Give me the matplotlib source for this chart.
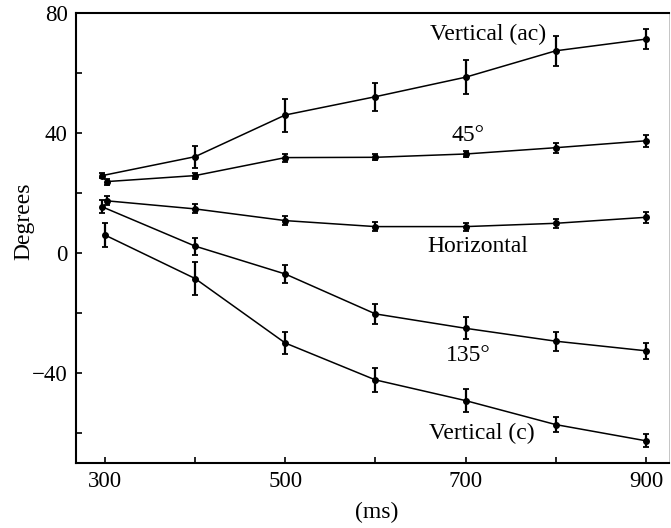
import matplotlib
matplotlib.use("Agg")
import matplotlib.pyplot as plt

plt.rcParams['font.family'] = ['Liberation Serif', 'DejaVu Serif']

# Mean angle (degrees) and standard-error half-widths per condition
x_vert_ac = [297, 400, 500, 600, 700, 800, 900]
y_vert_ac = [25.8, 32.1, 46.0, 52.1, 58.6, 67.4, 71.3]
e_vert_ac = [0.8, 3.6, 5.5, 4.6, 5.6, 5.1, 3.3]

x_45 = [302, 400, 500, 600, 700, 800, 900]
y_45 = [23.8, 25.8, 31.8, 31.9, 33.0, 35.1, 37.4]
e_45 = [1.0, 1.0, 1.3, 1.0, 1.0, 1.7, 2.0]

x_horiz = [302, 400, 500, 600, 700, 800, 900]
y_horiz = [17.4, 14.7, 10.8, 8.8, 8.8, 9.9, 11.9]
e_horiz = [1.5, 1.5, 1.5, 1.5, 1.3, 1.5, 1.8]

x_135 = [297, 400, 500, 600, 700, 800, 900]
y_135 = [15.4, 2.3, -7.0, -20.3, -25.1, -29.4, -32.6]
e_135 = [2.2, 2.8, 3.0, 3.2, 3.7, 3.2, 2.7]

x_vert_c = [300, 400, 500, 600, 700, 800, 900]
y_vert_c = [6.0, -8.5, -30.0, -42.3, -49.2, -57.2, -62.6]
e_vert_c = [4.0, 5.5, 3.7, 3.9, 3.9, 2.6, 2.2]

labels = ["Vertical (ac)", "45\u00b0", "Horizontal", "135\u00b0", "Vertical (c)"]
label_x = [725, 703, 714, 703, 718]
label_y = [72.7, 39.3, 2.0, -34.3, -60.3]

x_ticks = [300, 500, 700, 900]
y_ticks = [-40, 0, 40, 80]

fig = plt.figure(figsize=(6.71, 5.28), dpi=100)
ax = fig.add_axes([76 / 671, 1 - 463 / 528, 592.5 / 671, 450 / 528])

series = [
    (x_vert_ac, y_vert_ac, e_vert_ac),
    (x_45, y_45, e_45),
    (x_horiz, y_horiz, e_horiz),
    (x_135, y_135, e_135),
    (x_vert_c, y_vert_c, e_vert_c),
]
for xs, ys, es in series:
    ax.errorbar(xs, ys, yerr=es, color='black', lw=1.1, marker='o',
                markersize=4, elinewidth=1.6, capsize=2.5, capthick=1.3)

for txt, lx, ly in zip(labels, label_x, label_y):
    ax.text(lx, ly, txt, ha='center', va='center', fontsize=17)

ax.set_xlim(268, 925)
ax.set_ylim(-70, 80)
ax.set_xticks(range(300, 901, 100), minor=True)
ax.set_xticks(x_ticks)
ax.set_yticks(range(-60, 81, 20), minor=True)
ax.set_yticks(y_ticks)
ax.set_yticklabels(['\u221240', '0', '40', '80'])
ax.tick_params(which='both', direction='in', length=4, width=1.2,
               labelsize=16.5, pad=6)

for sp in ax.spines.values():
    sp.set_linewidth(1.5)
ax.spines['right'].set_linewidth(0.6)
ax.spines['right'].set_color('#bbbbbb')

ax.set_ylabel('Degrees', fontsize=17)
ax.yaxis.set_label_coords(-0.088, 0.538)
ax.yaxis.label.set_va('center')
ax.set_xlabel('(ms)', fontsize=17)
ax.xaxis.set_label_coords(0.508, -0.109)
ax.xaxis.label.set_va('center')

fig.savefig('out.png', dpi=100)
